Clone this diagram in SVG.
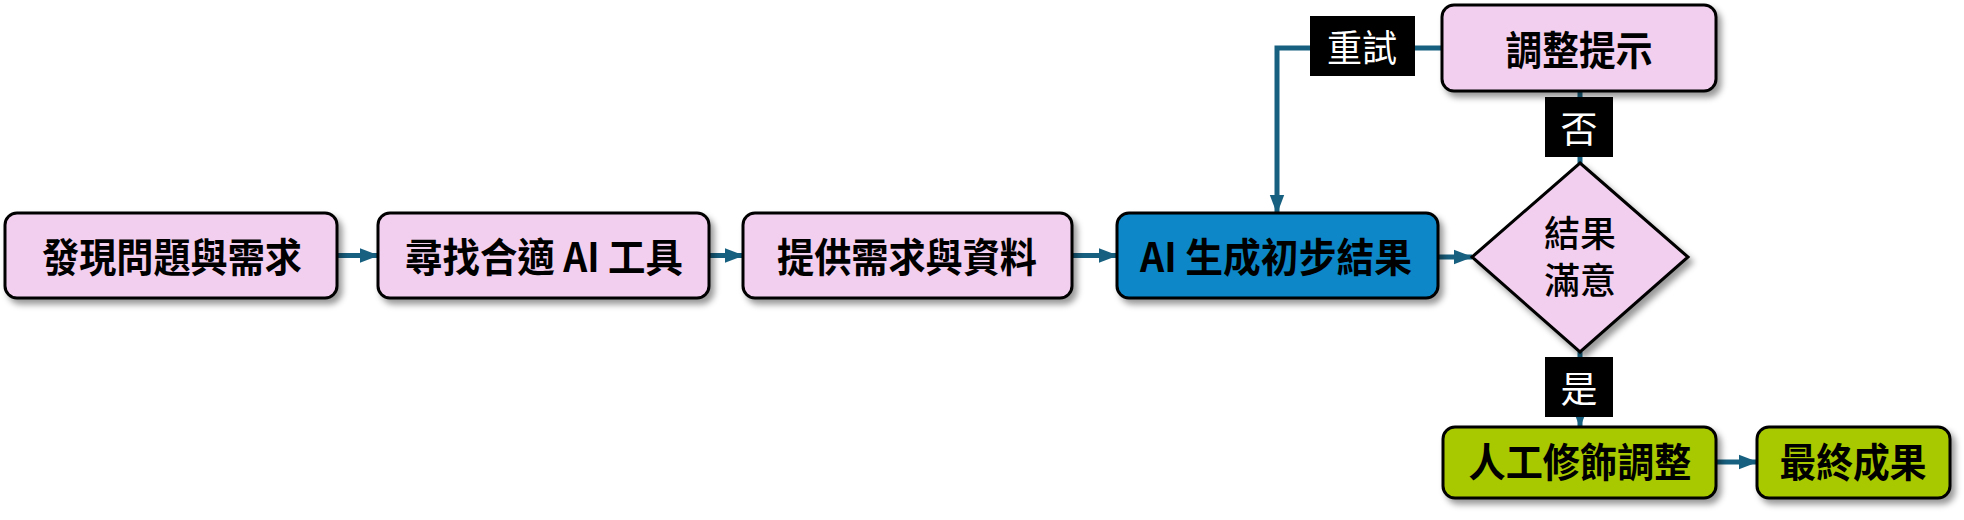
<svg xmlns="http://www.w3.org/2000/svg" width="1964" height="520" viewBox="0 0 1964 520">
<defs>
<filter id="sh" x="-10%" y="-20%" width="130%" height="150%">
<feDropShadow dx="4" dy="5" stdDeviation="3" flood-color="#000" flood-opacity="0.4"/>
</filter>
<marker id="ah" viewBox="0 0 10 10" refX="9.5" refY="5" markerWidth="3.8" markerHeight="3.8" orient="auto" markerUnits="strokeWidth">
<path d="M0,1.2 L10,5 L0,8.8 z" fill="#17607f"/>
</marker>
</defs>
<style>
.box{stroke:#000;stroke-width:3;filter:url(#sh)}
.pink{fill:#f2cfee}
.blue{fill:#0b87c7}
.green{fill:#a8c800}
.t{font-family:"Noto Sans CJK TC","Noto Sans CJK SC",sans-serif;font-weight:700;font-size:40px;fill:#000;text-anchor:middle;dominant-baseline:central}
.d{font-family:"Noto Sans CJK TC","Noto Sans CJK SC",sans-serif;font-weight:500;font-size:36px;fill:#000;text-anchor:middle}
.lbl{fill:#000}
.lt{font-family:"Noto Sans CJK TC","Noto Sans CJK SC",sans-serif;font-weight:400;font-size:37px;fill:#fff;text-anchor:middle;dominant-baseline:central}
.c{fill:none;stroke:#17607f;stroke-width:5}
</style>
<g id="connectors">
<line class="c" x1="337" y1="255.5" x2="378" y2="255.5" marker-end="url(#ah)"/>
<line class="c" x1="709" y1="255.5" x2="743" y2="255.5" marker-end="url(#ah)"/>
<line class="c" x1="1072" y1="255.5" x2="1117" y2="255.5" marker-end="url(#ah)"/>
<line class="c" x1="1438" y1="257" x2="1472" y2="257" marker-end="url(#ah)"/>
<line class="c" x1="1580" y1="163" x2="1580" y2="92" marker-end="url(#ah)"/>
<line class="c" x1="1580" y1="352" x2="1580" y2="427" marker-end="url(#ah)"/>
<line class="c" x1="1716" y1="462" x2="1757" y2="462" marker-end="url(#ah)"/>
<polyline class="c" points="1442,48 1277,48 1277,213" marker-end="url(#ah)"/>
<g id="label-retry"><rect class="lbl" x="1310" y="16" width="105" height="60"/><text class="lt" x="1362" y="46" textLength="70" lengthAdjust="spacingAndGlyphs">重試</text></g>
<g id="label-no"><rect class="lbl" x="1545" y="97" width="68" height="60"/><text class="lt" x="1579" y="127">否</text></g>
<g id="label-yes"><rect class="lbl" x="1545" y="357" width="68" height="60"/><text class="lt" x="1579" y="387">是</text></g>
</g>
<g id="n1"><rect class="box pink" x="5" y="213" width="332" height="85" rx="12"/><text class="t" x="172" y="254.5" textLength="260" lengthAdjust="spacingAndGlyphs">發現問題與需求</text></g>
<g id="n2"><rect class="box pink" x="378" y="213" width="331" height="85" rx="12"/><text class="t" x="544" y="254.5" textLength="278" lengthAdjust="spacingAndGlyphs">尋找合適 AI 工具</text></g>
<g id="n3"><rect class="box pink" x="743" y="213" width="329" height="85" rx="12"/><text class="t" x="907" y="254.5" textLength="260" lengthAdjust="spacingAndGlyphs">提供需求與資料</text></g>
<g id="n4"><rect class="box blue" x="1117" y="213" width="321" height="85" rx="12"/><text class="t" x="1276" y="254.5" textLength="272" lengthAdjust="spacingAndGlyphs">AI 生成初步結果</text></g>
<g id="n5"><polygon class="box pink" points="1580,163 1688,257 1580,352 1472,257"/><text class="d" x="1580" y="247"><tspan x="1580" y="247">結果</tspan><tspan x="1580" y="294">滿意</tspan></text></g>
<g id="n6"><rect class="box pink" x="1442" y="5" width="274" height="86" rx="12"/><text class="t" x="1579" y="47.5" textLength="147" lengthAdjust="spacingAndGlyphs">調整提示</text></g>
<g id="n7"><rect class="box green" x="1443" y="427" width="273" height="71" rx="12"/><text class="t" x="1580" y="460" textLength="223" lengthAdjust="spacingAndGlyphs">人工修飾調整</text></g>
<g id="n8"><rect class="box green" x="1757" y="427" width="193" height="71" rx="12"/><text class="t" x="1853" y="460" textLength="147" lengthAdjust="spacingAndGlyphs">最終成果</text></g>
</svg>
